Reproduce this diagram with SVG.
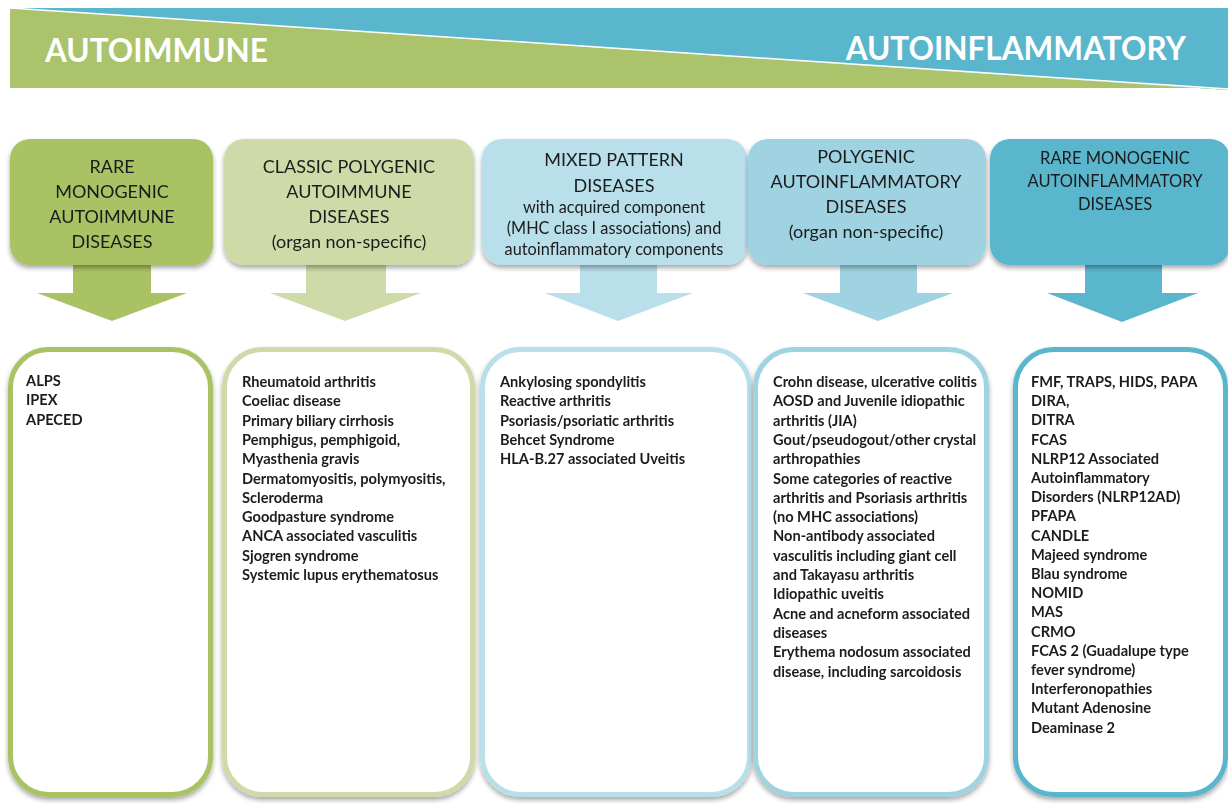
<svg xmlns="http://www.w3.org/2000/svg" width="1228" height="804" viewBox="0 0 1228 804">
  <defs>
    <filter id="shadow" x="-10%" y="-10%" width="120%" height="125%">
      <feGaussianBlur in="SourceAlpha" stdDeviation="2.5"/>
      <feOffset dx="0" dy="3" result="b"/>
      <feComponentTransfer><feFuncA type="linear" slope="0.35"/></feComponentTransfer>
      <feMerge><feMergeNode/><feMergeNode in="SourceGraphic"/></feMerge>
    </filter>
    <style>
      .banner { font-family: Lato, "Liberation Sans", sans-serif; font-weight: bold; font-size: 31.5px; fill: #ffffff; }
      .head { font-family: Lato, "Liberation Sans", sans-serif; font-size: 18px; fill: #1c1c1c; text-anchor: middle; }
      .sub { font-size: 16.3px; }
      .list { font-family: Lato, "Liberation Sans", sans-serif; font-weight: bold; font-size: 14.6px; fill: #1c1c1c; }
      .card { fill: #ffffff; stroke-width: 5; }
      .c1 { fill: #a9c264; } .s1 { stroke: #a9c264; }
      .c2 { fill: #cedba8; } .s2 { stroke: #cedba8; }
      .c3 { fill: #b8dfea; } .s3 { stroke: #b8dfea; }
      .c4 { fill: #9fd3e1; } .s4 { stroke: #9fd3e1; }
      .c5 { fill: #5ab6cd; } .s5 { stroke: #5ab6cd; }
    </style>
  </defs>

  <rect width="1228" height="804" fill="#ffffff"/>

  <!-- spectrum banner -->
  <g id="banner">
    <polygon points="10,8 1228,8 1228,90" fill="#5ab6cd"/>
    <polygon points="10,8 1228,90 1228,88 10,88" fill="#abc36b"/>
    <line x1="10" y1="8" x2="1228" y2="89" stroke="#ffffff" stroke-width="1.5"/>
    <text class="banner" x="45" y="62">AUTOIMMUNE</text>
    <text class="banner" x="1186" y="60" text-anchor="end">AUTOINFLAMMATORY</text>
  </g>

  <!-- block arrows from each category header to its list -->
  <g id="connectors">
    <polygon class="c1" points="73,262 151,262 151,293 187,293 112,321 37,293 73,293"/>
    <polygon class="c2" points="306,262 386,262 386,293 421,293 345,321 270,293 306,293"/>
    <polygon class="c3" points="580,262 657,262 657,293 693,293 618,321 545,293 580,293"/>
    <polygon class="c4" points="840,262 917,262 917,293 953,293 878,321 803,293 840,293"/>
    <polygon class="c5" points="1085,262 1162,262 1162,293 1198,293 1122,322 1047,293 1085,293"/>
  </g>

  <!-- category headers -->
  <g id="head-rare-autoimmune" filter="url(#shadow)">
    <rect class="c1" x="10" y="139" width="203" height="126" rx="20"/>
    <text class="head" x="112" y="173">RARE</text>
    <text class="head" x="112" y="198">MONOGENIC</text>
    <text class="head" x="112" y="223">AUTOIMMUNE</text>
    <text class="head" x="112" y="248">DISEASES</text>
  </g>
  <g id="head-classic-polygenic" filter="url(#shadow)">
    <rect class="c2" x="224" y="139" width="250" height="126" rx="20"/>
    <text class="head" x="349" y="173">CLASSIC POLYGENIC</text>
    <text class="head" x="349" y="198">AUTOIMMUNE</text>
    <text class="head" x="349" y="223">DISEASES</text>
    <text class="head" x="349" y="248">(organ non-specific)</text>
  </g>
  <g id="head-mixed-pattern" filter="url(#shadow)">
    <rect class="c3" x="482" y="139" width="265" height="126" rx="20"/>
    <text class="head" x="614" y="166">MIXED PATTERN</text>
    <text class="head" x="614" y="192">DISEASES</text>
    <text class="head sub" x="614" y="213">with acquired component</text>
    <text class="head sub" x="614" y="234">(MHC class I associations) and</text>
    <text class="head sub" x="614" y="255">autoinflammatory components</text>
  </g>
  <g id="head-polygenic-autoinflammatory" filter="url(#shadow)">
    <rect class="c4" x="748" y="139" width="238" height="126" rx="20"/>
    <text class="head" x="866" y="163">POLYGENIC</text>
    <text class="head" x="866" y="188">AUTOINFLAMMATORY</text>
    <text class="head" x="866" y="213">DISEASES</text>
    <text class="head" x="866" y="238">(organ non-specific)</text>
  </g>
  <g id="head-rare-autoinflammatory" filter="url(#shadow)">
    <rect class="c5" x="990" y="139" width="240" height="126" rx="20"/>
    <text class="head" x="1115" y="164" style="font-size:16.5px">RARE MONOGENIC</text>
    <text class="head" x="1115" y="187" style="font-size:16.5px">AUTOINFLAMMATORY</text>
    <text class="head" x="1115" y="210" style="font-size:16.5px">DISEASES</text>
  </g>

  <!-- disease lists -->
  <g id="list-rare-autoimmune" filter="url(#shadow)">
    <rect class="card s1" x="10.5" y="349.5" width="200" height="445" rx="38"/>
    <text class="list" x="26" y="386">
      <tspan x="26">ALPS</tspan>
      <tspan x="26" dy="19.3">IPEX</tspan>
      <tspan x="26" dy="19.3">APECED</tspan>
    </text>
  </g>
  <g id="list-classic-polygenic" filter="url(#shadow)">
    <rect class="card s2" x="224.5" y="349.5" width="248" height="445" rx="38"/>
    <text class="list" x="242" y="387">
      <tspan x="242">Rheumatoid arthritis</tspan>
      <tspan x="242" dy="19.3">Coeliac disease</tspan>
      <tspan x="242" dy="19.3">Primary biliary cirrhosis</tspan>
      <tspan x="242" dy="19.3">Pemphigus, pemphigoid,</tspan>
      <tspan x="242" dy="19.3">Myasthenia gravis</tspan>
      <tspan x="242" dy="19.3">Dermatomyositis, polymyositis,</tspan>
      <tspan x="242" dy="19.3">Scleroderma</tspan>
      <tspan x="242" dy="19.3">Goodpasture syndrome</tspan>
      <tspan x="242" dy="19.3">ANCA associated vasculitis</tspan>
      <tspan x="242" dy="19.3">Sjogren syndrome</tspan>
      <tspan x="242" dy="19.3">Systemic lupus erythematosus</tspan>
    </text>
  </g>
  <g id="list-mixed-pattern" filter="url(#shadow)">
    <rect class="card s3" x="482.5" y="349.5" width="267" height="445" rx="38"/>
    <text class="list" x="500" y="387">
      <tspan x="500">Ankylosing spondylitis</tspan>
      <tspan x="500" dy="19.3">Reactive arthritis</tspan>
      <tspan x="500" dy="19.3">Psoriasis/psoriatic arthritis</tspan>
      <tspan x="500" dy="19.3">Behcet Syndrome</tspan>
      <tspan x="500" dy="19.3">HLA-B.27 associated Uveitis</tspan>
    </text>
  </g>
  <g id="list-polygenic-autoinflammatory" filter="url(#shadow)">
    <rect class="card s4" x="755.5" y="349.5" width="231" height="445" rx="38"/>
    <text class="list" x="773" y="387">
      <tspan x="773">Crohn disease, ulcerative colitis</tspan>
      <tspan x="773" dy="19.3">AOSD and Juvenile idiopathic</tspan>
      <tspan x="773" dy="19.3">arthritis (JIA)</tspan>
      <tspan x="773" dy="19.3">Gout/pseudogout/other crystal</tspan>
      <tspan x="773" dy="19.3">arthropathies</tspan>
      <tspan x="773" dy="19.3">Some categories of reactive</tspan>
      <tspan x="773" dy="19.3">arthritis and Psoriasis arthritis</tspan>
      <tspan x="773" dy="19.3">(no MHC associations)</tspan>
      <tspan x="773" dy="19.3">Non-antibody associated</tspan>
      <tspan x="773" dy="19.3">vasculitis including giant cell</tspan>
      <tspan x="773" dy="19.3">and Takayasu arthritis</tspan>
      <tspan x="773" dy="19.3">Idiopathic uveitis</tspan>
      <tspan x="773" dy="19.3">Acne and acneform associated</tspan>
      <tspan x="773" dy="19.3">diseases</tspan>
      <tspan x="773" dy="19.3">Erythema nodosum associated</tspan>
      <tspan x="773" dy="19.3">disease, including sarcoidosis</tspan>
    </text>
  </g>
  <g id="list-rare-autoinflammatory" filter="url(#shadow)">
    <rect class="card s5" x="1015.5" y="349.5" width="210" height="445" rx="38"/>
    <text class="list" x="1031" y="387">
      <tspan x="1031">FMF, TRAPS, HIDS, PAPA</tspan>
      <tspan x="1031" dy="19.2">DIRA,</tspan>
      <tspan x="1031" dy="19.2">DITRA</tspan>
      <tspan x="1031" dy="19.2">FCAS</tspan>
      <tspan x="1031" dy="19.2">NLRP12 Associated</tspan>
      <tspan x="1031" dy="19.2">Autoinflammatory</tspan>
      <tspan x="1031" dy="19.2">Disorders (NLRP12AD)</tspan>
      <tspan x="1031" dy="19.2">PFAPA</tspan>
      <tspan x="1031" dy="19.2">CANDLE</tspan>
      <tspan x="1031" dy="19.2">Majeed syndrome</tspan>
      <tspan x="1031" dy="19.2">Blau syndrome</tspan>
      <tspan x="1031" dy="19.2">NOMID</tspan>
      <tspan x="1031" dy="19.2">MAS</tspan>
      <tspan x="1031" dy="19.2">CRMO</tspan>
      <tspan x="1031" dy="19.2">FCAS 2 (Guadalupe type</tspan>
      <tspan x="1031" dy="19.2">fever syndrome)</tspan>
      <tspan x="1031" dy="19.2">Interferonopathies</tspan>
      <tspan x="1031" dy="19.2">Mutant Adenosine</tspan>
      <tspan x="1031" dy="19.2">Deaminase 2</tspan>
    </text>
  </g>
</svg>
